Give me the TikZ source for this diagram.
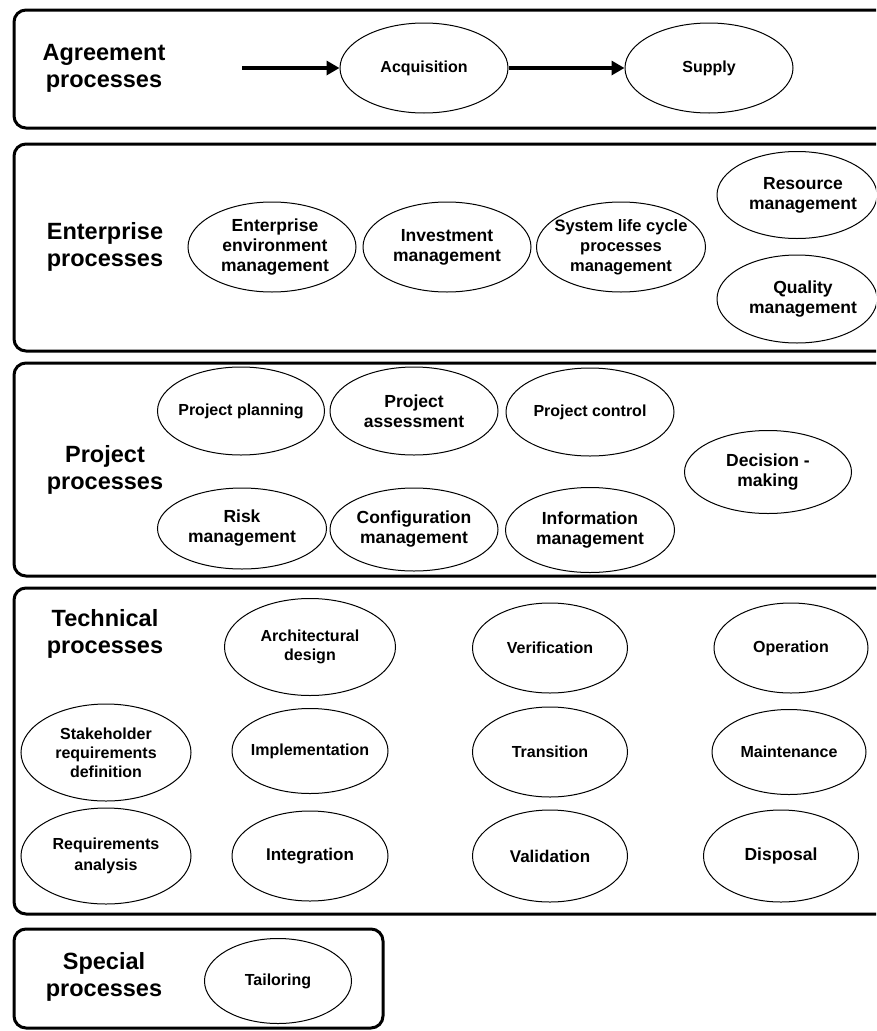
\documentclass[tikz,border=0pt]{standalone}
\usepackage{fontspec}
\setmainfont{Liberation Sans}
\usetikzlibrary{shapes.geometric,arrows.meta}
\begin{document}
\begin{tikzpicture}[x=1pt,y=-1pt,
 grp/.style={draw, line width=3pt, rounded corners=12pt, inner sep=0pt},
 ttl/.style={font=\fontsize{23.5}{27}\selectfont\bfseries, align=center, inner sep=0pt},
 pr/.style 2 args={ellipse, draw, line width=1pt, inner sep=0pt, minimum width=#1pt, minimum height=#2pt},
 lb/.style={font=\fontsize{16}{19}\selectfont\bfseries, align=center, inner sep=0pt},
 lbb/.style={font=\fontsize{17.5}{20}\selectfont\bfseries, align=center, inner sep=0pt},
 arr/.style={line width=4.5pt, -{Triangle[length=13pt,width=14pt]}}
]
\useasboundingbox (0,0) rectangle (876,1031);
\clip (0,0) rectangle (876,1031);

% group boxes
\node[grp, minimum width=878pt, minimum height=118pt] (g1) at (453,69) {};
\node[grp, minimum width=878pt, minimum height=207pt] (g2) at (453,247.5) {};
\node[grp, minimum width=878pt, minimum height=213pt] (g3) at (453,469.5) {};
\node[grp, minimum width=878pt, minimum height=326pt] (g4) at (453,751) {};
\node[grp, minimum width=369pt, minimum height=99pt] (g5) at (198.5,978.5) {};

% titles
\node[ttl] (t1) at (104,68.5) {Agreement\\processes};
\node[ttl] (t2) at (105,247) {Enterprise\\processes};
\node[ttl] (t3) at (105,470) {Project\\processes};
\node[ttl] (t4) at (105,633.5) {Technical\\processes};
\node[ttl] (t5) at (104,976.5) {Special\\processes};

% agreement
\node[pr={168}{90}, label={[lb]center:Acquisition}] (acq) at (424,68) {};
\node[pr={168}{90}, label={[lb]center:Supply}] (sup) at (709,68) {};
\coordinate (a0) at (242,68);
\draw[arr] (a0) -- (acq);
\draw[arr] (acq) -- (sup);

% enterprise
\node[pr={168}{90}, label={[lbb,xshift=3pt]center:{Enterprise\\environment\\management}}] (eem) at (272,247) {};
\node[pr={168}{90}, label={[lbb]center:{Investment\\management}}] (inv) at (447,247) {};
\node[pr={169}{90}, label={[lbb,font=\fontsize{16.5}{20}\selectfont\bfseries]center:{System life cycle\\processes\\management}}] (slc) at (621,247) {};
\node[pr={160}{87}, label={[lbb,xshift=6pt]center:{Resource\\management}}] (res) at (797,195) {};
\node[pr={160}{88}, label={[lbb,xshift=6pt]center:{Quality\\management}}] (qua) at (797,299) {};

% project
\node[pr={167}{88}, label={[lb]center:Project planning}] (ppl) at (241,411) {};
\node[pr={168}{88}, label={[lbb]center:{Project\\assessment}}] (pas) at (414,411) {};
\node[pr={168}{88}, label={[lb]center:Project control}] (pco) at (590,412) {};
\node[pr={167}{83}, label={[lbb]center:{Decision -\\making}}] (dec) at (768,472) {};
\node[pr={169}{81}, label={[lbb]center:{Risk\\management}}] (rsk) at (242,528.5) {};
\node[pr={168}{83}, label={[lbb]center:{Configuration\\management}}] (cfg) at (414,529.5) {};
\node[pr={169}{85}, label={[lbb]center:{Information\\management}}] (inf) at (590,530) {};

% technical
\node[pr={171}{97}, label={[lb]center:{Architectural\\design}}] (arc) at (310,647) {};
\node[pr={170}{97}, label={[lb]center:{Stakeholder\\requirements\\definition}}] (stk) at (106,752.5) {};
\node[pr={156}{85}, label={[lb]center:Implementation}] (imp) at (310,751) {};
\node[pr={170}{96}, label={[lb,font=\fontsize{16}{21}\selectfont\bfseries]center:{Requirements\\analysis}}] (req) at (106,856) {};
\node[pr={156}{90}, label={[lb,font=\fontsize{17}{20}\selectfont\bfseries]center:Integration}] (int) at (310,856) {};
\node[pr={155}{90}, label={[lb]center:Verification}] (ver) at (550,648) {};
\node[pr={155}{90}, label={[lb]center:Transition}] (tra) at (550,752) {};
\node[pr={155}{92}, label={[lb,font=\fontsize{17}{20}\selectfont\bfseries]center:Validation}] (val) at (550,856) {};
\node[pr={154}{90}, label={[lb]center:Operation}] (ope) at (791,648) {};
\node[pr={154}{85}, label={[lb]center:Maintenance}] (mai) at (789,752) {};
\node[pr={155}{92}, label={[lb,font=\fontsize{17.5}{20}\selectfont\bfseries]center:Disposal}] (dis) at (781,856) {};

% special
\node[pr={147}{85}, label={[lb]center:Tailoring}] (tai) at (278,981) {};
\end{tikzpicture}
\end{document}
